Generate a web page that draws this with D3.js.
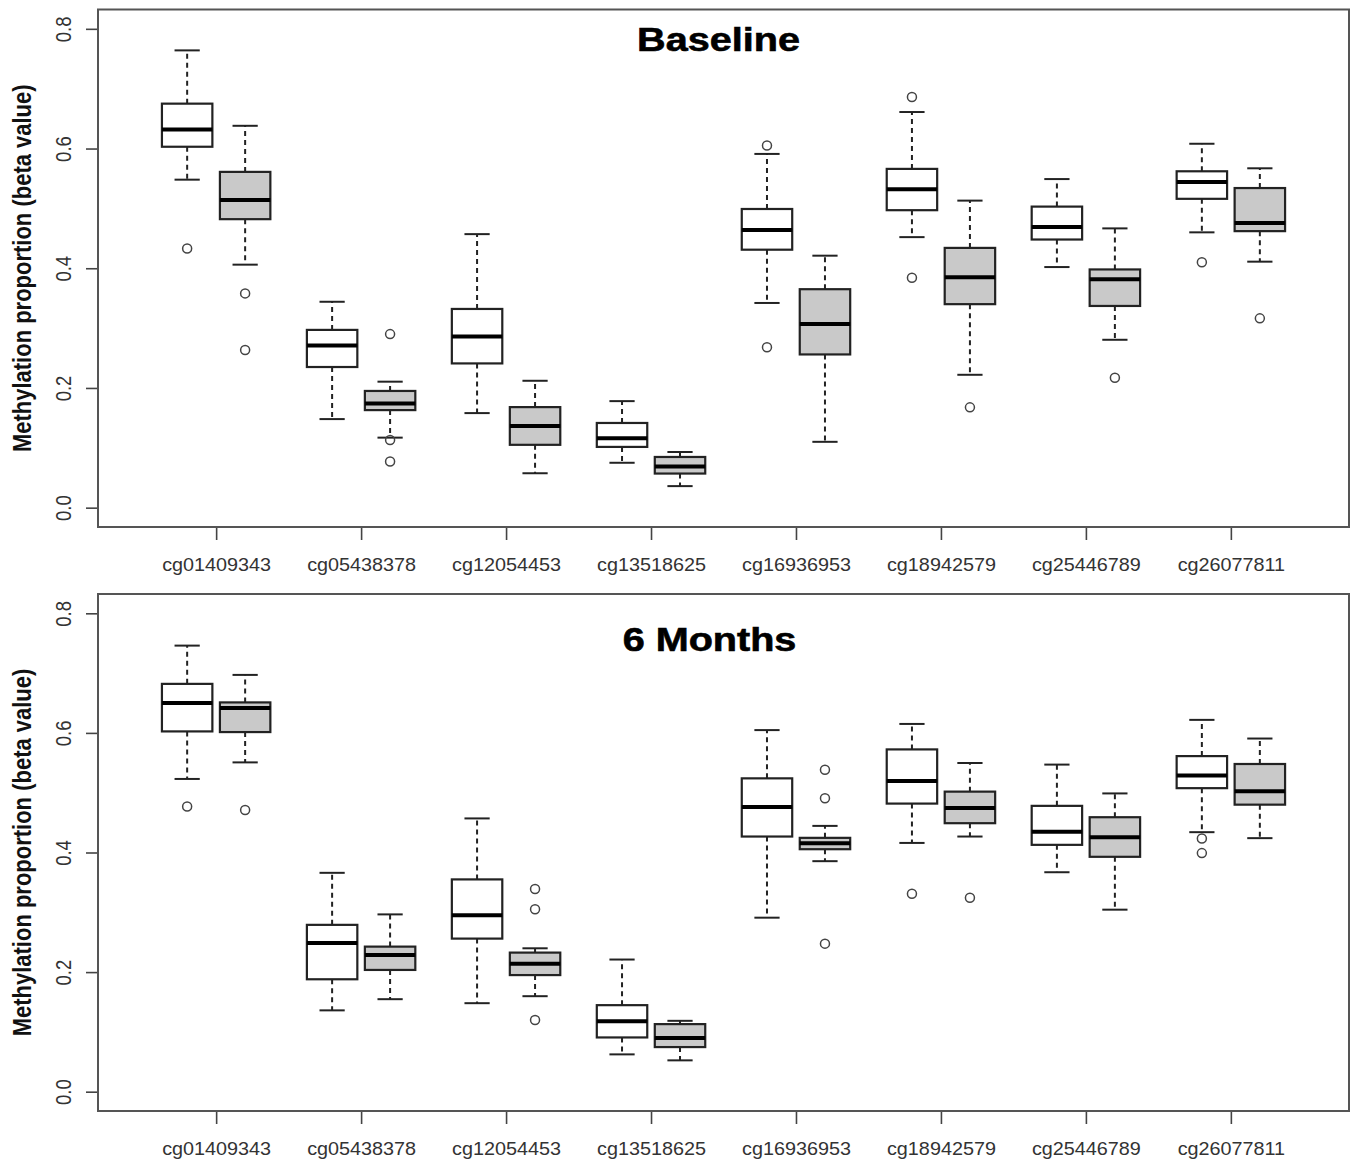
<!DOCTYPE html>
<html>
<head>
<meta charset="utf-8">
<script src="https://cdn.jsdelivr.net/npm/d3@7/dist/d3.min.js"></script>
<style>
  html, body { margin: 0; padding: 0; background: #ffffff; }
  svg { display: block; font-family: "Liberation Sans", Arial, Helvetica, sans-serif; }
</style>
</head>
<body>
<svg id="chart" width="1355" height="1166"></svg>
<script>
// ---------------- DATA ----------------
const categories = ["cg01409343", "cg05438378", "cg12054453", "cg13518625",
                    "cg16936953", "cg18942579", "cg25446789", "cg26077811"];
const groups = ["white", "grey"];
const panelTitles = ["Baseline", "6 Months"];
const yTicks = [0.0, 0.2, 0.4, 0.6, 0.8];
const yLabel = "Methylation proportion (beta value)";

// five-number summaries: [lower whisker, Q1, median, Q3, upper whisker]
const baselineWhite = [
  [0.548, 0.603, 0.632, 0.675, 0.764],
  [0.148, 0.235, 0.271, 0.297, 0.344],
  [0.158, 0.241, 0.286, 0.332, 0.457],
  [0.075, 0.1015, 0.116, 0.1415, 0.178],
  [0.342, 0.431, 0.464, 0.499, 0.591],
  [0.452, 0.497, 0.532, 0.566, 0.661],
  [0.402, 0.448, 0.469, 0.503, 0.549],
  [0.460, 0.516, 0.544, 0.562, 0.608]
];
const baselineGrey = [
  [0.406, 0.482, 0.514, 0.561, 0.638],
  [0.117, 0.163, 0.174, 0.195, 0.2105],
  [0.0575, 0.105, 0.1365, 0.168, 0.212],
  [0.036, 0.057, 0.0686, 0.0847, 0.093],
  [0.110, 0.256, 0.307, 0.365, 0.421],
  [0.222, 0.340, 0.385, 0.434, 0.513],
  [0.2805, 0.337, 0.3815, 0.398, 0.4666],
  [0.411, 0.462, 0.4756, 0.534, 0.567]
];
const baselineWhiteOutliers = [[0.433], [], [], [], [0.605, 0.268], [0.686, 0.384], [], [0.41]];
const baselineGreyOutliers = [[0.358, 0.2635], [0.290, 0.113, 0.077], [], [], [], [0.1676], [0.217], [0.3163]];

const sixMonthWhite = [
  [0.523, 0.6025, 0.650, 0.682, 0.746],
  [0.136, 0.188, 0.2487, 0.279, 0.366],
  [0.148, 0.256, 0.295, 0.355, 0.457],
  [0.0624, 0.0907, 0.118, 0.1447, 0.221],
  [0.291, 0.4267, 0.476, 0.524, 0.6047],
  [0.416, 0.4818, 0.5196, 0.5724, 0.615],
  [0.367, 0.4128, 0.4345, 0.478, 0.547],
  [0.434, 0.5076, 0.5288, 0.5612, 0.6218]
];
const sixMonthGrey = [
  [0.5507, 0.6014, 0.6415, 0.651, 0.697],
  [0.1547, 0.2036, 0.2286, 0.2426, 0.2965],
  [0.1597, 0.195, 0.214, 0.2326, 0.2398],
  [0.0524, 0.0746, 0.0896, 0.113, 0.1185],
  [0.3855, 0.4055, 0.4155, 0.4245, 0.4445],
  [0.4267, 0.449, 0.4746, 0.5018, 0.5497],
  [0.3044, 0.3928, 0.4253, 0.459, 0.4988],
  [0.424, 0.480, 0.5026, 0.548, 0.5906]
];
const sixMonthWhiteOutliers = [[0.477], [], [], [], [], [0.331], [], [0.4234, 0.399]];
const sixMonthGreyOutliers = [[0.471], [], [0.339, 0.305, 0.120], [], [0.5385, 0.4906, 0.2476], [0.3244], [], []];

// ---------------- LAYOUT ----------------
const svg = d3.select("#chart");
const boxLeft = 98, boxRight = 1349;
const stretch = 1.18; // horizontal stretch of glyphs in the reference

const panels = [
  { title: panelTitles[0], stats: [baselineWhite, baselineGrey],
    outliers: [baselineWhiteOutliers, baselineGreyOutliers],
    top: 9.5, bottom: 527, titleX: 718.5, titleY: 51 },
  { title: panelTitles[1], stats: [sixMonthWhite, sixMonthGrey],
    outliers: [sixMonthWhiteOutliers, sixMonthGreyOutliers],
    top: 594, bottom: 1111, titleX: 709.5, titleY: 651 }
];

const fills = { white: "#ffffff", grey: "#c9c9c9" };
const lineCol = "#222";

const x = d3.scalePoint().domain(categories).range([boxLeft, boxRight]).padding(0.815);
const step = x.step();
const xOff = d3.scalePoint().domain(groups).range([-0.2 * step, 0.2 * step]);
const boxW = 0.348 * step;
const capW = boxW / 2;

panels.forEach(p => {
  const y = d3.scaleLinear().domain([-0.0323, 0.8323]).range([p.bottom, p.top]);
  const g = svg.append("g");

  // Y axis
  const yAxis = g.append("g")
    .attr("transform", `translate(${boxLeft},0)`)
    .call(d3.axisLeft(y).tickValues(yTicks).tickSize(12).tickFormat(d3.format(".1f")));
  yAxis.select(".domain").remove();
  yAxis.selectAll(".tick line").attr("stroke", "#444").attr("stroke-width", 1.6);
  yAxis.selectAll(".tick text")
    .attr("x", 0).attr("y", 0).attr("dy", 0)
    .attr("text-anchor", "middle")
    .attr("transform", `translate(-27,0) scale(${stretch},1) rotate(-90)`)
    .attr("font-size", 18.5)
    .attr("fill", "#333")
    .attr("font-family", "'Liberation Sans', Arial, sans-serif");

  // X axis
  const xAxis = g.append("g")
    .attr("transform", `translate(0,${p.bottom})`)
    .call(d3.axisBottom(x).tickSize(13));
  xAxis.select(".domain").remove();
  xAxis.selectAll(".tick line").attr("stroke", "#444").attr("stroke-width", 1.6);
  xAxis.selectAll(".tick text")
    .attr("x", 0).attr("y", 0).attr("dy", "0.71em")
    .attr("transform", `translate(0,31) scale(1.1,1)`)
    .attr("font-size", 18)
    .attr("fill", "#333")
    .attr("font-family", "'Liberation Sans', Arial, sans-serif");

  // plot frame
  g.append("rect")
    .attr("x", boxLeft).attr("y", p.top)
    .attr("width", boxRight - boxLeft).attr("height", p.bottom - p.top)
    .attr("fill", "none").attr("stroke", "#555").attr("stroke-width", 2);

  // Y label
  g.append("text")
    .attr("transform", `translate(31,${(p.top + p.bottom) / 2}) scale(${stretch},1) rotate(-90)`)
    .attr("text-anchor", "middle")
    .attr("font-size", 22)
    .attr("font-weight", "bold")
    .attr("fill", "#111")
    .text(yLabel);

  // Title
  g.append("text")
    .attr("transform", `translate(${p.titleX},${p.titleY}) scale(1.2,1)`)
    .attr("text-anchor", "middle")
    .attr("font-size", 33)
    .attr("font-weight", "bold")
    .attr("fill", "#000")
    .attr("stroke", "#000").attr("stroke-width", 0.6)
    .text(p.title);

  // Boxes
  groups.forEach((grp, gi) => {
    const stats = p.stats[gi];
    const outs = p.outliers[gi];
    const bg = g.append("g");
    categories.forEach((cat, ci) => {
      const s = stats[ci];
      const cx = x(cat) + xOff(grp);
      const b = bg.append("g");
      // whiskers (dashed)
      b.append("line").attr("x1", cx).attr("x2", cx)
        .attr("y1", y(s[3])).attr("y2", y(s[4]))
        .attr("stroke", lineCol).attr("stroke-width", 2).attr("stroke-dasharray", "5,4");
      b.append("line").attr("x1", cx).attr("x2", cx)
        .attr("y1", y(s[1])).attr("y2", y(s[0]))
        .attr("stroke", lineCol).attr("stroke-width", 2).attr("stroke-dasharray", "5,4");
      // caps
      [s[0], s[4]].forEach(v => {
        b.append("line").attr("x1", cx - capW / 2).attr("x2", cx + capW / 2)
          .attr("y1", y(v)).attr("y2", y(v))
          .attr("stroke", lineCol).attr("stroke-width", 2);
      });
      // box
      b.append("rect")
        .attr("x", cx - boxW / 2).attr("width", boxW)
        .attr("y", y(s[3])).attr("height", y(s[1]) - y(s[3]))
        .attr("fill", fills[grp]).attr("stroke", lineCol).attr("stroke-width", 2.2);
      // median
      b.append("line").attr("x1", cx - boxW / 2).attr("x2", cx + boxW / 2)
        .attr("y1", y(s[2])).attr("y2", y(s[2]))
        .attr("stroke", "#000").attr("stroke-width", 4);
      // outliers
      outs[ci].forEach(v => {
        b.append("circle").attr("cx", cx).attr("cy", y(v)).attr("r", 4.5)
          .attr("fill", "none").attr("stroke", "#444").attr("stroke-width", 1.5);
      });
    });
  });
});
</script>
</body>
</html>
